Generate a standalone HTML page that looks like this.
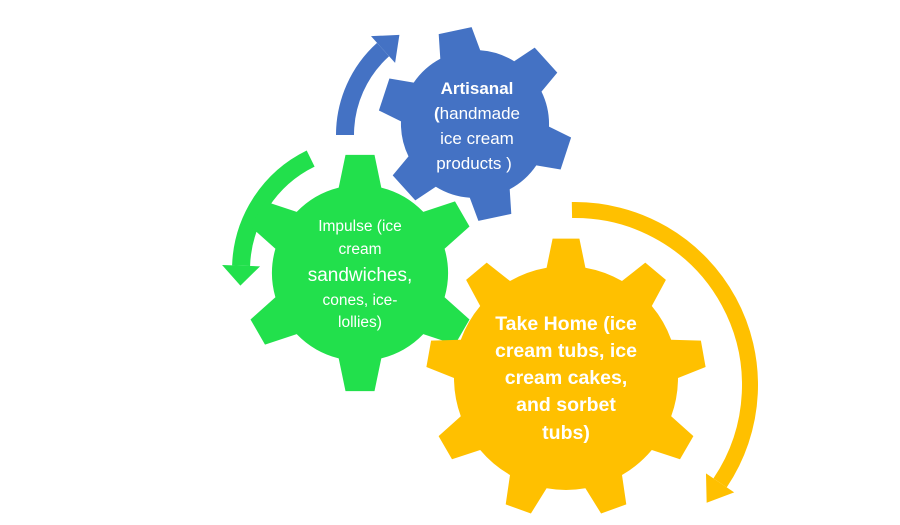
<!DOCTYPE html>
<html><head><meta charset="utf-8"><style>
html,body{margin:0;padding:0;background:#fff;}
svg{display:block;}
text{font-family:"Liberation Sans",sans-serif;fill:#fff;text-anchor:middle;}
</style></head><body>
<svg id="s" width="900" height="525" viewBox="0 0 900 525" xmlns="http://www.w3.org/2000/svg">
<g id="g"></g>
<g font-size="17">
<text x="477" y="94" font-weight="bold">Artisanal</text>
<text x="477" y="119"><tspan font-weight="bold">(</tspan>handmade</text>
<text x="477" y="144">ice cream</text>
<text x="474" y="169">products )</text>
</g>
<g font-size="15.5">
<text x="360" y="231">Impulse (ice</text>
<text x="360" y="254">cream</text>
<text x="360" y="281" font-size="19">sandwiches,</text>
<text x="360" y="305">cones, ice-</text>
<text x="360" y="327">lollies)</text>
</g>
<g font-size="19.5" font-weight="bold">
<text x="566" y="330">Take Home (ice</text>
<text x="566" y="357">cream tubs, ice</text>
<text x="566" y="384">cream cakes,</text>
<text x="566" y="411">and sorbet</text>
<text x="566" y="439">tubs)</text>
</g>
</svg>
<script>
var NS="http://www.w3.org/2000/svg",G=document.getElementById("g");
function el(n,a){var e=document.createElementNS(NS,n);for(var k in a)e.setAttribute(k,a[k]);G.appendChild(e);return e;}
function gear(cx,cy,rb,ro,n,rot,tb,tt,col){
 var d="",R=Math.PI/180;
 for(var i=0;i<n;i++){
  var a=(rot+i*360/n-90);
  var pts=[[rb,a-tb],[ro,a-tt],[ro,a+tt],[rb,a+tb]];
  pts.forEach(function(p,j){var x=cx+p[0]*Math.cos(p[1]*R),y=cy+p[0]*Math.sin(p[1]*R);
   d+=(i==0&&j==0?"M":"L")+x.toFixed(1)+" "+y.toFixed(1)+" ";});
  var na=a+360/n-tb, x=cx+rb*Math.cos(na*R),y=cy+rb*Math.sin(na*R);
  d+="A"+rb+" "+rb+" 0 0 1 "+x.toFixed(1)+" "+y.toFixed(1)+" ";
 }
 el("path",{d:d+"Z",fill:col});
}
function arrow(cx,cy,r,w,a0,a1,hl,hw,col){
 var R=Math.PI/180,cw=a1>a0?1:0;
 var p0=[cx+r*Math.cos(a0*R),cy+r*Math.sin(a0*R)],p1=[cx+r*Math.cos(a1*R),cy+r*Math.sin(a1*R)];
 var large=Math.abs(a1-a0)>180?1:0;
 el("path",{d:"M"+p0+" A"+r+" "+r+" 0 "+large+" "+cw+" "+p1,fill:"none",stroke:col,"stroke-width":w});
 var s=cw?1:-1,t=[-Math.sin(a1*R)*s,Math.cos(a1*R)*s],nrm=[Math.cos(a1*R),Math.sin(a1*R)];
 var tip=[p1[0]+t[0]*hl,p1[1]+t[1]*hl];
 var b1=[p1[0]+nrm[0]*hw,p1[1]+nrm[1]*hw],b2=[p1[0]-nrm[0]*hw,p1[1]-nrm[1]*hw];
 el("polygon",{points:b1+" "+tip+" "+b2,fill:col});
}
arrow(460,135,115,18,180,228,22,18,"#4472c4");
gear(475,124,74,97,6,-12,16,10,"#4472c4");
arrow(365,270,124,18,244,182,20,19,"#22e04c");
gear(360,273,88,119,6,0,14,7,"#22e04c");
arrow(575,385,175,16,-91,34,24,17,"#ffc000");
gear(566,378,112,140,9,0,10,5.5,"#ffc000");
</script>
</body></html>
